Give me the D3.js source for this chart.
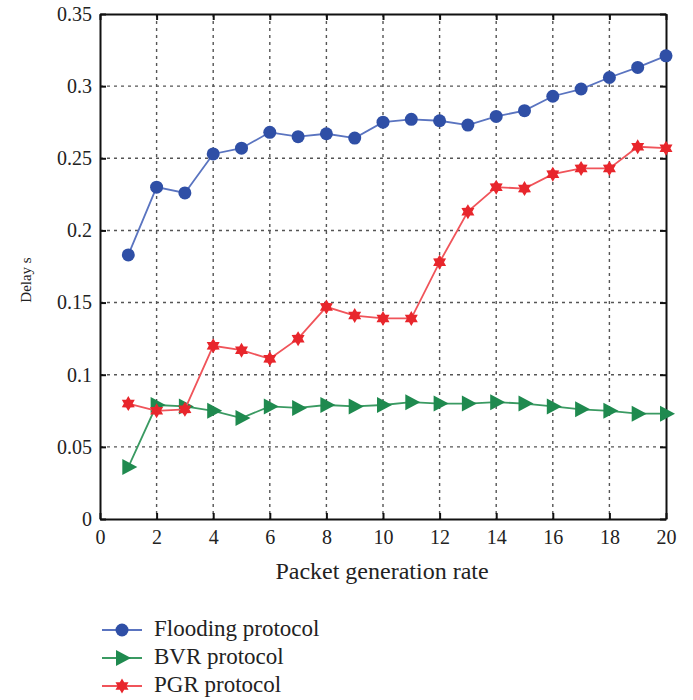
<!DOCTYPE html>
<html>
<head>
<meta charset="utf-8">
<script src="https://cdn.jsdelivr.net/npm/d3@7"></script>
<style>
  html, body { margin: 0; padding: 0; background: #fff; }
  svg text { font-family: "Liberation Serif", "DejaVu Serif", serif; fill: #222; }
</style>
</head>
<body>
<svg id="chart" width="693" height="700"></svg>
<script>
// Packet generation rate (x) and delay in seconds for each protocol
const rates = d3.range(1, 21);
const flooding = [0.183, 0.230, 0.226, 0.253, 0.257, 0.268, 0.265, 0.267, 0.264, 0.275,
                  0.277, 0.276, 0.273, 0.279, 0.283, 0.293, 0.298, 0.306, 0.313, 0.321];
const bvr = [0.036, 0.079, 0.078, 0.075, 0.070, 0.078, 0.077, 0.079, 0.078, 0.079,
             0.081, 0.080, 0.080, 0.081, 0.080, 0.078, 0.076, 0.075, 0.073, 0.073];
const pgr = [0.080, 0.075, 0.076, 0.120, 0.117, 0.111, 0.125, 0.147, 0.141, 0.139,
             0.139, 0.178, 0.213, 0.230, 0.229, 0.239, 0.243, 0.243, 0.258, 0.257];

const xTicks = [0, 2, 4, 6, 8, 10, 12, 14, 16, 18, 20];
const yTicks = [0, 0.05, 0.1, 0.15, 0.2, 0.25, 0.3, 0.35];
const yTickLabels = ["0", "0.05", "0.1", "0.15", "0.2", "0.25", "0.3", "0.35"];

const seriesNames = ["Flooding protocol", "BVR protocol", "PGR protocol"];
const seriesColors = ["#2f4fa6", "#1f8a4f", "#e8262c"];
const seriesLineColors = ["#5a74c0", "#3a9a62", "#f0545a"];
const seriesMarkers = ["circle", "triangle", "star"];

const svg = d3.select("#chart");
const plotLeft = 100, plotRight = 666, plotTop = 14, plotBottom = 519;

const x = d3.scaleLinear().domain([0, 20]).range([plotLeft, plotRight]);
const y = d3.scaleLinear().domain([0, 0.35]).range([plotBottom, plotTop]);

// dashed grid
const grid = svg.append("g");
grid.selectAll("line.vx").data(xTicks.filter(d => d > 0 && d < 20)).join("line")
  .attr("x1", d => x(d)).attr("x2", d => x(d)).attr("y1", plotTop).attr("y2", plotBottom)
  .attr("stroke", "#555").attr("stroke-width", 1.4).attr("stroke-dasharray", "3,4");
grid.selectAll("line.hy").data(yTicks.filter(d => d > 0 && d < 0.35)).join("line")
  .attr("y1", d => y(d)).attr("y2", d => y(d)).attr("x1", plotLeft).attr("x2", plotRight)
  .attr("stroke", "#555").attr("stroke-width", 1.4).attr("stroke-dasharray", "3,4");

// axes: ticks inside, box frame
const xAxis = d3.axisBottom(x).tickValues(xTicks).tickSizeInner(-6).tickSizeOuter(0).tickPadding(11);
const yAxis = d3.axisLeft(y).tickValues(yTicks).tickSizeInner(-6).tickSizeOuter(0).tickPadding(8)
  .tickFormat((d, i) => yTickLabels[i]);

const gx = svg.append("g").attr("transform", `translate(0,${plotBottom})`).call(xAxis);
const gy = svg.append("g").attr("transform", `translate(${plotLeft},0)`).call(yAxis);
const gxTop = svg.append("g").attr("transform", `translate(0,${plotTop})`)
  .call(d3.axisTop(x).tickValues(xTicks).tickSizeInner(-6).tickSizeOuter(0).tickFormat(""));
const gyRight = svg.append("g").attr("transform", `translate(${plotRight},0)`)
  .call(d3.axisRight(y).tickValues(yTicks).tickSizeInner(-6).tickSizeOuter(0).tickFormat(""));

[gx, gy, gxTop, gyRight].forEach(g => {
  g.select(".domain").attr("stroke", "#111").attr("stroke-width", 2);
  g.selectAll(".tick line").attr("stroke", "#111").attr("stroke-width", 2);
  g.selectAll(".tick text").style("font-size", "20px").attr("fill", "#2a2a2a");
});

// axis titles
svg.append("text")
  .attr("x", 382).attr("y", 579)
  .attr("text-anchor", "middle").style("font-size", "24px")
  .text("Packet generation rate");
svg.append("text")
  .attr("transform", `translate(31,280) rotate(-90)`)
  .attr("text-anchor", "middle").style("font-size", "15px")
  .text("Delay s");

// marker drawing: filled circle, right-pointing triangle, six-pointed star
function drawMarker(sel, type, color) {
  if (type === "circle") {
    sel.append("circle").attr("r", 6.5).attr("fill", color);
  } else if (type === "triangle") {
    sel.append("path").attr("d", "M-6,-8 L9,0 L-6,8 Z").attr("fill", color);
  } else {
    const r1 = 7.5, r2 = 4.4;
    const pts = d3.range(12).map(i => {
      const a = Math.PI / 6 * i - Math.PI / 2;
      const r = i % 2 === 0 ? r1 : r2;
      return [r * Math.cos(a), r * Math.sin(a)];
    });
    sel.append("path").attr("d", "M" + pts.join("L") + "Z").attr("fill", color);
  }
}

const allSeries = [flooding, bvr, pgr];
const line = d3.line().x((d, i) => x(rates[i])).y(d => y(d));

allSeries.forEach((vals, s) => {
  const g = svg.append("g");
  g.append("path").datum(vals).attr("d", line)
    .attr("fill", "none").attr("stroke", seriesLineColors[s]).attr("stroke-width", 1.8);
  g.selectAll("g.pt").data(vals).join("g")
    .attr("transform", (d, i) => `translate(${x(rates[i])},${y(d)})`)
    .each(function () { drawMarker(d3.select(this), seriesMarkers[s], seriesColors[s]); });
});

// legend
const legend = svg.append("g");
seriesNames.forEach((name, s) => {
  const ly = 630 + s * 28;
  legend.append("line").attr("x1", 102).attr("x2", 142).attr("y1", ly).attr("y2", ly)
    .attr("stroke", seriesLineColors[s]).attr("stroke-width", 1.8);
  const m = legend.append("g").attr("transform", `translate(122,${ly})`);
  drawMarker(m, seriesMarkers[s], seriesColors[s]);
  legend.append("text").attr("x", 154).attr("y", ly + 6).style("font-size", "23px")
    .attr("fill", "#222").text(name);
});
</script>
</body>
</html>
